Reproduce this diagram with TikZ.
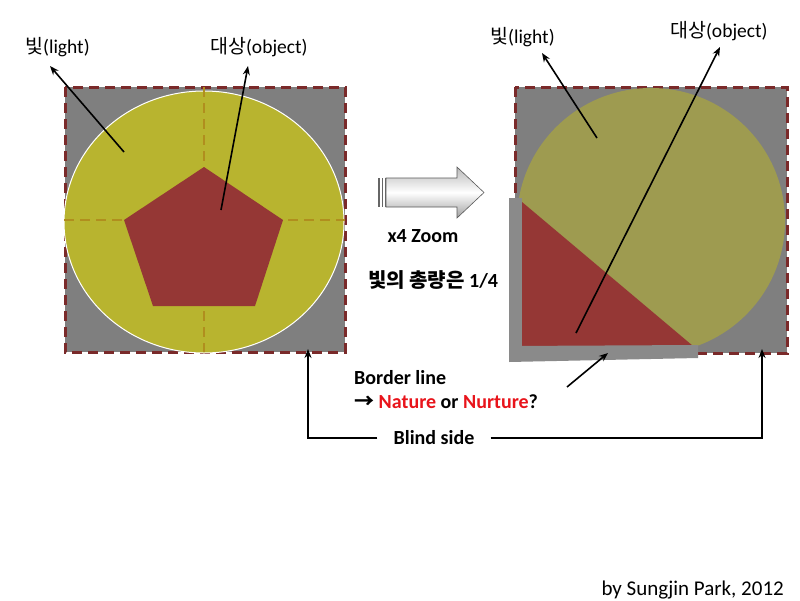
\documentclass[tikz,border=0pt]{standalone}
\usepackage{fontspec}
\setmainfont{Carlito}
\newfontfamily\kr{Noto Sans CJK KR}
\usetikzlibrary{arrows.meta}
\definecolor{gfill}{HTML}{7F7F7F}
\definecolor{bord}{HTML}{7A2A2A}
\definecolor{lcirc}{HTML}{B8B42F}
\definecolor{rcirc}{HTML}{9E9B50}
\definecolor{objred}{HTML}{953735}
\definecolor{ochre}{HTML}{B08E1E}
\definecolor{barg}{HTML}{8A8A8A}
\definecolor{txtred}{HTML}{E8141B}
\tikzset{
  lbl/.style={inner sep=0pt, font=\fontsize{19.5}{23}\selectfont},
  blbl/.style={inner sep=0pt, font=\fontsize{20}{24}\selectfont\bfseries},
  ptr/.style={-{Stealth[length=9pt,width=7pt]}, line width=1.6pt},
  dashborder/.style={draw=bord, line width=3pt, dash pattern=on 10pt off 6pt},
  quarter/.style={draw=ochre, line width=2pt, dash pattern=on 10pt off 6pt},
}
\begin{document}
\begin{tikzpicture}[x=1pt,y=-1pt]
\useasboundingbox (0,0) rectangle (800,600);
% ---------- left panel ----------
\fill[gfill] (65,87) rectangle (345,352);
\draw[dashborder] (65,87) rectangle (345,352);
\draw[fill=lcirc, draw=white, line width=1pt] (204,222) ellipse [x radius=140, y radius=131];
\draw[quarter] (204,87) -- (204,352);
\draw[quarter] (64,220) -- (345,220);
\fill[objred] (204,167) -- (283,220) -- (255,306) -- (153,306) -- (124,220) -- cycle;
\coordinate (lp1) at (124,152);
\coordinate (lp2) at (221,210);
\node[lbl, anchor=west] (llight) at (25,47) {{\kr 빛}(light)};
\node[lbl, anchor=west] (lobj) at (210,47) {{\kr 대상}(object)};
\draw[ptr] (lp1) -- (50,66);
\draw[ptr] (lp2) -- (248,66);
% ---------- big arrow ----------
\shade[top color=gray!55, bottom color=gray!75, middle color=white, draw=gray!70!black, line width=0.6pt]
  (386,178) -- (457,178) -- (457,167) -- (484,192.5) -- (457,218) -- (457,207) -- (386,207) -- cycle;
\fill[gray!80!black] (378,178) rectangle (380,207);
\fill[gray!80!black] (381.5,178) rectangle (383,207);
\fill[gray!80!black] (384.5,178) rectangle (386,207);
\node[blbl] (zoom) at (423,236) {x4 Zoom};
\node[blbl] (total) at (433,280) {{\kr\bfseries 빛의 총량은} 1/4};
% ---------- right panel ----------
\fill[gfill] (515,87) rectangle (787,353);
\draw[dashborder] (515,87) rectangle (787,353);
\fill[rcirc] (651,221) ellipse [x radius=134, y radius=133];
\fill[objred] (522,202) -- (522,348) -- (693,346) -- cycle;
\fill[barg] (509,198) rectangle (522,353);
\fill[barg] (509,346) -- (698,345) -- (698,358) -- (509,362) -- cycle;
\coordinate (rp1) at (597,138);
\coordinate (rp2) at (576,333);
\node[lbl, anchor=west] (rlight) at (490,37) {{\kr 빛}(light)};
\node[lbl, anchor=west] (robj) at (670,31) {{\kr 대상}(object)};
\draw[ptr] (rp1) -- (542,53);
\draw[ptr] (rp2) -- (720,47);
% ---------- border line ----------
\node[blbl, anchor=west] (border) at (354,378) {Border line};
\node[blbl, anchor=west] (nature) at (354,402) {{\kr\bfseries →} \textcolor{txtred}{Nature} or \textcolor{txtred}{Nurture}?};
\coordinate (bl1) at (567,387);
\coordinate (bl2) at (608,353);
\draw[ptr] (bl1) -- (bl2);
% ---------- blind side ----------
\node[blbl] (blind) at (434,438) {Blind side};
\coordinate (bsl) at (308,438);
\coordinate (bsr) at (762,438);
\coordinate (bsl2) at (308,349);
\coordinate (bsr2) at (762,349);
\draw[ptr] ([xshift=-16pt]blind.west) -- (bsl) -- (bsl2);
\draw[ptr] ([xshift=16pt]blind.east) -- (bsr) -- (bsr2);
% ---------- credit ----------
\node[lbl, anchor=east, font=\fontsize{21}{24}\selectfont] (credit) at (784,590) {by Sungjin Park, 2012};
\end{tikzpicture}
\end{document}
